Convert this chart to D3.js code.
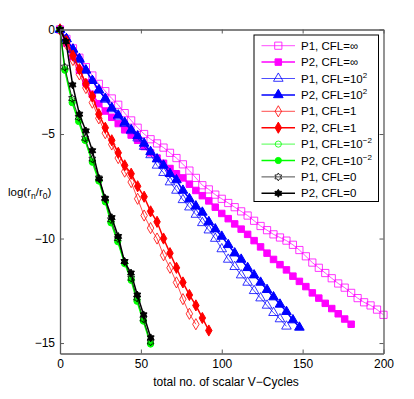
<!DOCTYPE html>
<html><head><meta charset="utf-8">
<script src="https://cdn.jsdelivr.net/npm/d3@7"></script>
<style>body{margin:0;background:#fff}svg{display:block;font-family:"Liberation Sans",Arial,sans-serif}</style>
</head><body><svg id="c" width="414" height="399"></svg>
<script>
// ---- data ----
const xTicks = [0, 50, 100, 150, 200];
const yTicks = [0, -5, -10, -15];
const xLabel = "total no. of scalar V\u2212Cycles";

const p1InfX = [0,4,8,12,16,20,24,28,32,36,40,44,48,52,56,60,64,68,72,76,80,84,88,92,96,100,104,108,112,116,120,124,128,132,136,140,144,148,152,156,160,164,168,172,176,180,184,188,192,196,200];
const p1InfY = [0,-0.45,-0.9,-1.35,-1.8,-2.2,-2.6,-2.95,-3.3,-3.6,-4.0,-4.35,-4.7,-5.0,-5.25,-5.45,-5.65,-5.9,-6.15,-6.45,-6.75,-7.1,-7.45,-7.65,-7.9,-8.1,-8.3,-8.5,-8.7,-8.9,-9.15,-9.4,-9.6,-9.8,-9.95,-10.1,-10.3,-10.55,-10.85,-11.15,-11.4,-11.65,-11.9,-12.15,-12.35,-12.6,-12.85,-13.05,-13.2,-13.4,-13.65];

const p2InfX = [0,4,8,12,16,20,24,28,32,36,40,44,48,52,56,60,64,68,72,76,80,84,88,92,96,100,104,108,112,116,120,124,128,132,136,140,144,148,152,156,160,164,168,172,176,180];
const p2InfY = [0,-0.65,-1.3,-1.95,-2.55,-3.1,-3.55,-3.9,-4.2,-4.5,-4.8,-5.05,-5.3,-5.6,-5.9,-6.15,-6.4,-6.65,-6.9,-7.1,-7.4,-7.7,-7.95,-8.2,-8.5,-8.8,-9.05,-9.3,-9.55,-9.8,-10.1,-10.4,-10.7,-11.0,-11.25,-11.5,-11.8,-12.05,-12.3,-12.6,-12.85,-13.1,-13.35,-13.6,-13.85,-14.1];

const p1E2X = [0,4,8,12,16,20,24,28,32,36,40,44,48,52,56,60,64,68,72,76,80,84,88,92,96,100,104,108,112,116,120,124,128,132,136,140];
const p1E2Y = [0,-0.45,-0.95,-1.45,-1.95,-2.45,-2.9,-3.35,-3.8,-4.15,-4.5,-4.85,-5.2,-5.6,-6.0,-6.5,-6.85,-7.3,-7.7,-8.15,-8.5,-8.85,-9.25,-9.6,-10.0,-10.5,-11.0,-11.35,-11.75,-12.1,-12.5,-12.85,-13.2,-13.55,-13.85,-14.2];

const p2E2X = [0,4,8,12,16,20,24,28,32,36,40,44,48,52,56,60,64,68,72,76,80,84,88,92,96,100,104,108,112,116,120,124,128,132,136,140,144,148];
const p2E2Y = [0,-0.45,-0.95,-1.4,-1.95,-2.45,-2.9,-3.3,-3.75,-4.1,-4.45,-4.8,-5.1,-5.45,-5.85,-6.2,-6.5,-6.9,-7.2,-7.7,-8.1,-8.45,-8.75,-9.2,-9.55,-9.9,-10.3,-10.7,-11.0,-11.4,-11.75,-12.1,-12.45,-12.8,-13.15,-13.5,-13.9,-14.25];

const p1C1X = [0,4,8,12,16,20,24,28,32,36,40,44,48,52,56,60,64,68,72,76,80,84];
const p1C1Y = [0,-0.7,-1.46,-2.15,-2.8,-3.5,-4.25,-4.96,-5.5,-6.15,-6.8,-7.3,-8.1,-8.9,-9.5,-10.0,-10.8,-11.4,-12.1,-12.9,-13.6,-14.1];

const p2C1X = [0,4,8,12,16,20,24,28,32,36,40,44,48,52,56,60,64,68,72,76,80,84,88,92];
const p2C1Y = [0,-0.55,-1.25,-1.9,-2.6,-3.2,-4.05,-4.7,-5.3,-5.9,-6.5,-6.9,-7.5,-8.0,-8.7,-9.2,-10.0,-10.7,-11.4,-12.1,-12.7,-13.2,-13.8,-14.4];

const p1Em2X = [0,3,7.5,11.5,15.5,20,24,28,31.5,35.7,40,44,47.6,51.5,56];
const p1Em2Y = [0,-1.9,-3.4,-4.3,-5.3,-6.3,-7.2,-8.2,-9.2,-10.1,-11.2,-11.9,-12.9,-13.9,-15.0];

const p2Em2X = [0,3,7.5,11.5,15.5,20,24,28,31.5,35.7,40,44,47.6,51.5,56];
const p2Em2Y = [0,-1.95,-3.5,-4.4,-5.3,-6.35,-7.25,-8.25,-9.25,-10.15,-11.2,-12.0,-13.0,-13.95,-15.05];

const p1C0X = [0,3,7.5,11.5,15.5,20,24,28,31.5,35.7,40,44,47.6,51.5,56];
const p1C0Y = [0,-1.8,-3.3,-4.2,-5.2,-6.2,-7.1,-8.1,-9.1,-10.0,-11.1,-11.9,-12.85,-13.85,-14.95];

const p2C0X = [0,3.7,7.8,12,16,20,24.3,27.8,32,36,39.8,43.9,47.8,51.7,56.1];
const p2C0Y = [0,-0.58,-2.65,-4.05,-4.85,-5.8,-7.15,-8.07,-9.0,-9.9,-11.1,-11.65,-12.7,-13.65,-14.75];

// legend labels: [main text, superscript]
const legendLabels = [
  ["P1, CFL=\u221e",""],["P2, CFL=\u221e",""],
  ["P1, CFL=10","2"],["P2, CFL=10","2"],
  ["P1, CFL=1",""],["P2, CFL=1",""],
  ["P1, CFL=10","\u22122"],["P2, CFL=10","\u22122"],
  ["P1, CFL=0",""],["P2, CFL=0",""]
];

// ---- drawing ----
const hexagram = {
  draw(ctx, size) {
    const R = Math.sqrt(size) * 0.62, r = R * 0.58;
    for (let i = 0; i < 12; i++) {
      const a = -Math.PI/2 + i * Math.PI/6;
      const rr = i % 2 === 0 ? R : r;
      const px = rr * Math.cos(a), py = rr * Math.sin(a);
      if (i === 0) ctx.moveTo(px, py); else ctx.lineTo(px, py);
    }
    ctx.closePath();
  }
};

const series = [
  {x:p1InfX,y:p1InfY,color:"#ff00ff",sym:d3.symbolSquare,size:52,fill:false,lw:0.7},
  {x:p2InfX,y:p2InfY,color:"#ff00ff",sym:d3.symbolSquare,size:42,fill:true,lw:1.5},
  {x:p1E2X,y:p1E2Y,color:"#0000ff",sym:d3.symbolTriangle,size:40,fill:false,lw:0.7},
  {x:p2E2X,y:p2E2Y,color:"#0000ff",sym:d3.symbolTriangle,size:40,fill:true,lw:1.5},
  {x:p1C1X,y:p1C1Y,color:"#ff0000",sym:d3.symbolDiamond,size:36,fill:false,lw:0.7},
  {x:p2C1X,y:p2C1Y,color:"#ff0000",sym:d3.symbolDiamond,size:36,fill:true,lw:1.5},
  {x:p1Em2X,y:p1Em2Y,color:"#00ff00",sym:d3.symbolCircle,size:30,fill:false,lw:0.7},
  {x:p2Em2X,y:p2Em2Y,color:"#00ff00",sym:d3.symbolCircle,size:30,fill:true,lw:1.5},
  {x:p1C0X,y:p1C0Y,color:"#000000",sym:hexagram,size:40,fill:false,lw:0.7},
  {x:p2C0X,y:p2C0Y,color:"#000000",sym:hexagram,size:40,fill:true,lw:1.5}
];

const svg = d3.select("#c");
const L = 60, R = 383.5, T = 29.5, B = 353.5;
const x = d3.scaleLinear().domain([0, 200]).range([L, R]);
const y = d3.scaleLinear().domain([-15.5, 0]).range([B, T]);

const line = d3.line().x(d => x(d[0])).y(d => y(d[1]));
const plot = svg.append("g");
series.forEach(s => {
  const pts = s.x.map((v, i) => [v, s.y[i]]);
  plot.append("path").attr("d", line(pts)).attr("fill", "none")
    .attr("stroke", s.color).attr("stroke-width", s.lw);
  const sym = d3.symbol().type(s.sym).size(s.size);
  plot.selectAll(null).data(pts).enter().append("path")
    .attr("transform", d => `translate(${x(d[0])},${y(d[1])})`)
    .attr("d", sym)
    .attr("fill", s.fill ? s.color : "none")
    .attr("stroke", s.color).attr("stroke-width", s.fill ? 1 : 0.8);
});

// axes
const axColor = "#5a5a5a";
const tk = 4;
const gx = svg.append("g").attr("transform", `translate(0,${B})`)
  .call(d3.axisBottom(x).tickValues(xTicks).tickSizeInner(-tk).tickSizeOuter(0).tickPadding(6));
const gy = svg.append("g").attr("transform", `translate(${L},0)`)
  .call(d3.axisLeft(y).tickValues(yTicks).tickSizeInner(-tk).tickSizeOuter(0).tickPadding(5));
const gxt = svg.append("g").attr("transform", `translate(0,${T})`)
  .call(d3.axisTop(x).tickValues(xTicks).tickSizeInner(-tk).tickSizeOuter(0).tickFormat(""));
const gyr = svg.append("g").attr("transform", `translate(${R},0)`)
  .call(d3.axisRight(y).tickValues(yTicks).tickSizeInner(-tk).tickSizeOuter(0).tickFormat(""));
[gx, gy, gxt, gyr].forEach(g => {
  g.select(".domain").attr("stroke", axColor).attr("stroke-width", 1.3);
  g.selectAll(".tick line").attr("stroke", axColor);
  g.selectAll("text").attr("fill", "#000").attr("font-size", 12)
    .attr("font-family", "Liberation Sans, Arial, sans-serif");
});

// axis labels
svg.append("text").attr("x", 226).attr("y", 386).attr("text-anchor", "middle")
  .attr("font-size", 12).text(xLabel);
const yl = svg.append("text").attr("x", 8).attr("y", 196).attr("font-size", 11.5);
yl.append("tspan").text("log(r");
yl.append("tspan").attr("font-size", 8.5).attr("dy", 3).text("n");
yl.append("tspan").attr("dy", -3).text("/r");
yl.append("tspan").attr("font-size", 8.5).attr("dy", 3).text("0");
yl.append("tspan").attr("dy", -3).text(")");

// legend
const lg = svg.append("g");
lg.append("rect").attr("x", 254).attr("y", 35).attr("width", 124.5).attr("height", 166.5)
  .attr("fill", "#fff").attr("stroke", "#000").attr("stroke-width", 1);
series.forEach((s, i) => {
  const yy = 45.7 + i * 16.4;
  lg.append("line").attr("x1", 261.5).attr("x2", 295).attr("y1", yy).attr("y2", yy)
    .attr("stroke", s.color).attr("stroke-width", s.lw);
  lg.append("path").attr("transform", `translate(278.3,${yy})`)
    .attr("d", d3.symbol().type(s.sym).size(s.size))
    .attr("fill", s.fill ? s.color : "none").attr("stroke", s.color)
    .attr("stroke-width", s.fill ? 1 : 0.8);
  const t = lg.append("text").attr("x", 301).attr("y", yy + 4).attr("font-size", 11.5);
  t.append("tspan").text(legendLabels[i][0]);
  if (legendLabels[i][1]) t.append("tspan").attr("font-size", 8).attr("dy", -5).text(legendLabels[i][1]);
});
</script></body></html>
